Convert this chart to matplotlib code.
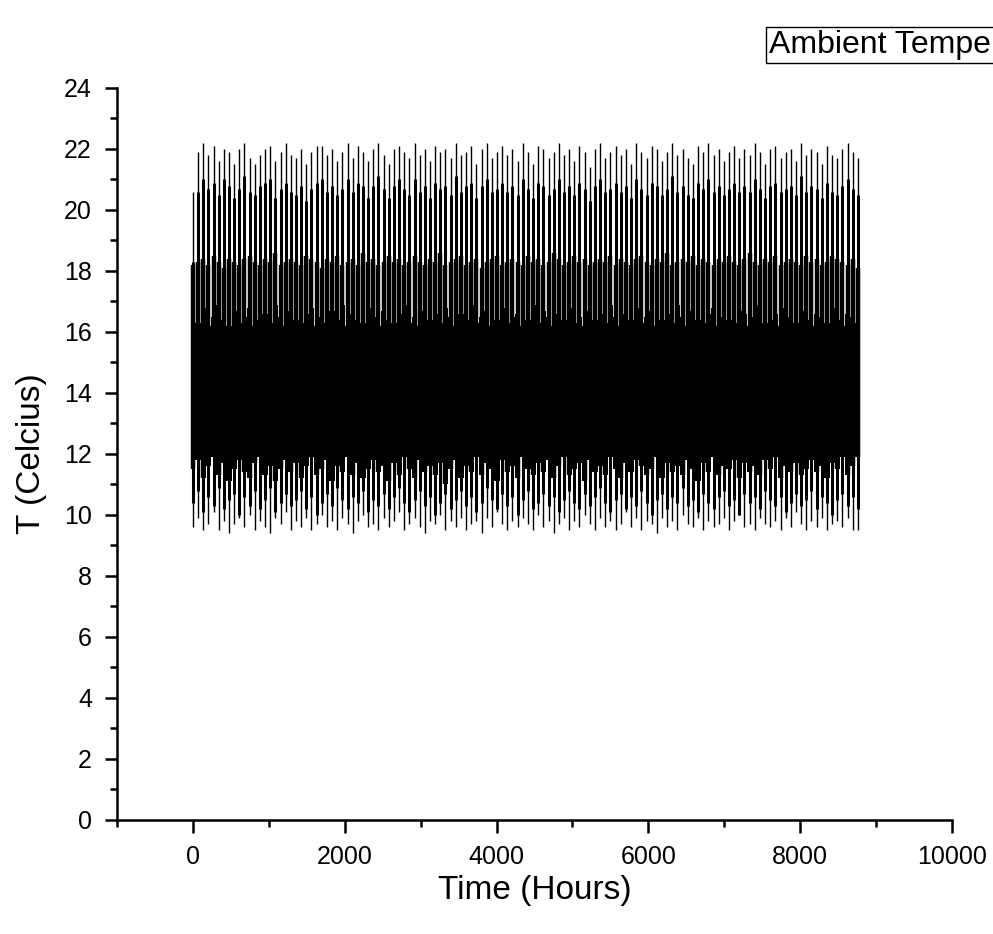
import numpy as np
import matplotlib.pyplot as plt
from matplotlib.ticker import MultipleLocator

plt.rcParams['font.family'] = ['Liberation Sans', 'DejaVu Sans']

# one entry per visible spike of the hourly trace
n_spikes = 130
spike_hours = np.linspace(0, 8760, n_spikes)

peaks = [20.6, 21.9, 22.2, 21.8, 22.1, 21.6, 22.0, 21.9, 21.5, 22.0,
         22.2, 21.7, 21.5, 21.8, 22.0, 22.1, 21.6, 21.9, 22.2, 21.8,
         21.7, 22.0, 21.5, 21.9, 22.1, 22.1, 21.8, 22.0, 21.6, 21.9,
         22.2, 21.7, 22.1, 21.9, 21.6, 22.0, 22.2, 21.8, 21.5, 22.0,
         22.1, 21.9, 21.7, 22.2, 21.8, 22.0, 21.6, 22.1, 21.9, 22.0,
         21.7, 22.2, 21.8, 21.9, 22.1, 21.5, 22.0, 22.2, 21.7, 21.9,
         22.1, 21.8, 22.0, 21.6, 22.2, 21.9, 21.5, 22.1, 22.0, 21.7,
         21.9, 22.2, 21.8, 22.0, 21.6, 22.1, 21.9, 21.4, 22.0, 22.2,
         21.7, 21.9, 22.1, 21.8, 22.0, 21.5, 22.2, 21.9, 21.7, 22.1,
         22.0, 21.6, 21.9, 22.2, 21.8, 22.0, 21.7, 21.5, 22.1, 21.9,
         22.2, 21.8, 22.0, 21.6, 21.9, 22.1, 21.7, 22.0, 21.8, 22.2,
         21.9, 21.5, 22.0, 22.1, 21.7, 21.9, 22.0, 21.6, 22.2, 21.8,
         22.0, 21.9, 21.5, 22.1, 21.8, 21.7, 22.0, 22.2, 21.9, 21.7]

tops = [18.3, 20.6, 21.0, 20.7, 20.9, 20.5, 21.0, 20.8, 20.4, 20.7,
        21.1, 20.6, 20.5, 20.8, 20.9, 21.0, 20.4, 20.7, 20.9, 20.6,
        20.5, 20.8, 20.3, 20.7, 20.9, 21.0, 20.6, 20.8, 20.5, 20.7,
        21.0, 20.6, 20.9, 20.8, 20.4, 20.8, 21.1, 20.7, 20.4, 20.8,
        21.0, 20.7, 20.5, 21.0, 20.6, 20.8, 20.4, 20.9, 20.7, 20.8,
        20.5, 21.1, 20.6, 20.8, 20.9, 20.4, 20.8, 21.0, 20.6, 20.7,
        20.9, 20.6, 20.8, 20.5, 21.0, 20.7, 20.4, 20.9, 20.8, 20.5,
        20.7, 21.0, 20.6, 20.8, 20.5, 20.9, 20.7, 20.3, 20.8, 21.0,
        20.6, 20.7, 20.9, 20.6, 20.8, 20.4, 21.0, 20.7, 20.5, 20.9,
        20.8, 20.5, 20.7, 21.1, 20.6, 20.8, 20.5, 20.4, 20.9, 20.7,
        21.0, 20.6, 20.8, 20.5, 20.7, 20.9, 20.6, 20.8, 20.6, 21.0,
        20.7, 20.4, 20.8, 20.9, 20.6, 20.7, 20.8, 20.5, 21.1, 20.6,
        20.8, 20.7, 20.4, 20.9, 20.6, 20.5, 20.8, 21.0, 20.7, 20.5]

core_hi = [18.2, 18.3, 18.4, 18.2, 18.5, 18.3, 18.1, 18.4, 18.3, 18.2,
           18.4, 18.5, 18.3, 18.2, 18.4, 18.3, 18.6, 18.2, 18.3, 18.4,
           18.3, 18.2, 18.5, 18.4, 18.3, 18.1, 18.4, 18.3, 18.5, 18.2,
           18.3, 18.4, 18.2, 18.6, 18.3, 18.4, 18.2, 18.3, 18.5, 18.3,
           18.4, 18.2, 18.3, 18.5, 18.3, 18.2, 18.4, 18.3, 18.6, 18.2,
           18.3, 18.4, 18.5, 18.2, 18.3, 18.4, 18.1, 18.3, 18.4, 18.5,
           18.2, 18.3, 18.4, 18.3, 18.2, 18.5, 18.3, 18.4, 18.2, 18.3,
           18.6, 18.4, 18.2, 18.3, 18.5, 18.3, 18.4, 18.2, 18.3, 18.4,
           18.3, 18.5, 18.2, 18.4, 18.3, 18.2, 18.4, 18.5, 18.3, 18.2,
           18.4, 18.3, 18.6, 18.2, 18.3, 18.4, 18.3, 18.5, 18.2, 18.4,
           18.3, 18.2, 18.4, 18.3, 18.5, 18.3, 18.2, 18.4, 18.6, 18.3,
           18.2, 18.4, 18.3, 18.5, 18.2, 18.3, 18.4, 18.3, 18.2, 18.5,
           18.3, 18.4, 18.2, 18.3, 18.5, 18.4, 18.3, 18.2, 18.4, 18.1]

base_hi = [16.6, 16.3, 16.8, 16.2, 16.5, 16.9, 16.4, 16.2, 16.7, 16.3,
           16.5, 16.8, 16.2, 16.4, 16.6, 16.3, 16.9, 16.5, 16.2, 16.7,
           16.4, 16.3, 16.6, 16.8, 16.2, 16.5, 16.3, 16.7, 16.4, 16.9,
           16.2, 16.6, 16.4, 16.3, 16.8, 16.5, 16.2, 16.7, 16.4, 16.3,
           16.6, 16.9, 16.3, 16.5, 16.2, 16.7, 16.4, 16.6, 16.3, 16.8,
           16.5, 16.2, 16.6, 16.4, 16.9, 16.3, 16.5, 16.7, 16.2, 16.4,
           16.8, 16.3, 16.5, 16.6, 16.2, 16.4, 16.9, 16.3, 16.7, 16.5,
           16.2, 16.6, 16.4, 16.8, 16.3, 16.5, 16.2, 16.7, 16.4, 16.6,
           16.3, 16.9, 16.5, 16.2, 16.6, 16.4, 16.8, 16.3, 16.5, 16.7,
           16.2, 16.4, 16.6, 16.3, 16.9, 16.5, 16.2, 16.7, 16.4, 16.3,
           16.6, 16.8, 16.2, 16.5, 16.4, 16.3, 16.7, 16.6, 16.2, 16.5,
           16.9, 16.3, 16.4, 16.6, 16.2, 16.8, 16.5, 16.3, 16.7, 16.4,
           16.2, 16.6, 16.5, 16.3, 16.8, 16.4, 16.2, 16.6, 16.5, 16.3]

base_lo = [11.5, 11.8, 11.2, 11.6, 11.9, 11.3, 11.7, 11.1, 11.5, 11.8,
           11.4, 11.2, 11.7, 11.9, 11.3, 11.6, 11.1, 11.5, 11.8, 11.4,
           11.7, 11.2, 11.6, 11.9, 11.3, 11.5, 11.8, 11.1, 11.6, 11.4,
           11.9, 11.3, 11.7, 11.2, 11.5, 11.8, 11.4, 11.6, 11.1, 11.7,
           11.3, 11.9, 11.5, 11.2, 11.8, 11.4, 11.6, 11.3, 11.7, 11.0,
           11.5, 11.8, 11.2, 11.6, 11.4, 11.9, 11.3, 11.7, 11.5, 11.1,
           11.8, 11.4, 11.6, 11.2, 11.9, 11.5, 11.3, 11.7, 11.4, 11.8,
           11.2, 11.6, 11.9, 11.3, 11.5, 11.7, 11.1, 11.8, 11.4, 11.6,
           11.3, 11.9, 11.5, 11.2, 11.7, 11.4, 11.8, 11.6, 11.3, 11.5,
           11.9, 11.2, 11.7, 11.4, 11.6, 11.3, 11.8, 11.5, 11.1, 11.7,
           11.4, 11.9, 11.3, 11.6, 11.5, 11.8, 11.2, 11.7, 11.4, 11.6,
           11.3, 11.8, 11.5, 11.9, 11.2, 11.6, 11.4, 11.7, 11.3, 11.5,
           11.8, 11.4, 11.6, 11.2, 11.7, 11.5, 11.9, 11.3, 11.6, 11.9]

bottoms = [10.4, 10.8, 10.1, 10.6, 10.3, 10.9, 10.2, 10.5, 10.7, 10.0,
           10.6, 10.3, 10.8, 10.2, 10.5, 10.9, 10.1, 10.4, 10.7, 10.3,
           10.5, 10.8, 10.2, 10.6, 10.0, 10.4, 10.7, 10.3, 10.9, 10.5,
           10.2, 10.6, 10.4, 10.8, 10.1, 10.5, 10.3, 10.7, 10.2, 10.6,
           10.9, 10.4, 10.1, 10.5, 10.8, 10.3, 10.6, 10.0, 10.4, 10.7,
           10.2, 10.5, 10.8, 10.3, 10.6, 10.1, 10.4, 10.9, 10.5, 10.2,
           10.7, 10.3, 10.6, 10.0, 10.5, 10.8, 10.2, 10.4, 10.7, 10.3,
           10.6, 10.1, 10.5, 10.8, 10.4, 10.2, 10.7, 10.3, 10.6, 10.9,
           10.4, 10.1, 10.5, 10.7, 10.2, 10.6, 10.3, 10.8, 10.4, 10.0,
           10.5, 10.7, 10.2, 10.6, 10.4, 10.9, 10.3, 10.5, 10.1, 10.7,
           10.4, 10.2, 10.6, 10.8, 10.3, 10.5, 10.0, 10.7, 10.4, 10.6,
           10.2, 10.8, 10.5, 10.3, 10.6, 10.1, 10.4, 10.7, 10.3, 10.5,
           10.8, 10.2, 10.6, 10.4, 10.0, 10.5, 10.7, 10.3, 10.6, 10.2]

troughs = [9.6, 9.9, 9.5, 9.7, 10.1, 9.5, 9.8, 9.4, 9.7, 9.9,
           9.6, 10.0, 9.5, 9.8, 9.6, 9.4, 9.9, 9.7, 10.1, 9.5,
           9.8, 9.6, 9.9, 9.5, 9.7, 10.0, 9.6, 9.8, 9.5, 9.9,
           9.7, 9.4, 9.8, 10.0, 9.6, 9.7, 9.5, 9.9, 9.6, 9.8,
           10.1, 9.5, 9.7, 9.9, 9.6, 9.4, 9.8, 9.7, 10.0, 9.5,
           9.8, 9.6, 9.9, 9.5, 9.7, 9.8, 9.4, 9.9, 9.6, 10.1,
           9.7, 9.5, 9.8, 9.6, 9.9, 9.7, 9.5, 10.0, 9.6, 9.8,
           9.4, 9.7, 9.9, 9.5, 9.8, 9.6, 10.0, 9.7, 9.5, 9.9,
           9.6, 9.8, 9.5, 9.7, 10.1, 9.6, 9.9, 9.5, 9.8, 9.7,
           9.4, 9.9, 9.6, 9.8, 9.5, 10.0, 9.7, 9.6, 9.9, 9.5,
           9.8, 9.6, 9.7, 9.9, 9.5, 9.8, 10.0, 9.6, 9.7, 9.5,
           9.9, 9.7, 9.6, 9.8, 9.5, 9.9, 9.6, 10.1, 9.7, 9.5,
           9.8, 9.6, 9.9, 9.5, 9.7, 9.8, 9.6, 9.9, 9.5, 9.5]

fig = plt.figure(figsize=(9.93, 9.34), dpi=100)
ax = fig.add_axes([0.1178, 0.1221, 0.8409, 0.7837])

# solid middle band, then the columns on top of it
ax.fill_between(spike_hours, base_lo, base_hi, step='mid', color='black', lw=0)
ax.vlines(spike_hours, base_lo, core_hi, color='black', lw=3.2)
ax.vlines(spike_hours, bottoms, tops, color='black', lw=2.2)
ax.vlines(spike_hours, troughs, peaks, color='black', lw=1.0)

ax.set_xlim(-1000, 10000)
ax.set_ylim(0, 24)
ax.xaxis.set_major_locator(MultipleLocator(2000))
ax.xaxis.set_minor_locator(MultipleLocator(1000))
ax.yaxis.set_major_locator(MultipleLocator(2))
ax.yaxis.set_minor_locator(MultipleLocator(1))

ax.spines['top'].set_visible(False)
ax.spines['right'].set_visible(False)
for s in ['left', 'bottom']:
    ax.spines[s].set_linewidth(1.8)

ax.tick_params(which='major', direction='out', length=9, width=1.8, labelsize=18, pad=9)
ax.tick_params(which='minor', direction='out', length=5, width=1.8)

ax.set_xlabel('Time (Hours)', fontsize=24, labelpad=4)
ax.set_ylabel('T (Celcius)', fontsize=24, labelpad=12)

# legend box, cut by the right edge as in the original export
fig.text(769 / 993, 1 - 45 / 934, 'Ambient Temperature', fontsize=23, va='center', ha='left',
         bbox=dict(boxstyle='square,pad=0.08', fc='white', ec='black', lw=1))

fig.savefig('out.png', dpi=100)
